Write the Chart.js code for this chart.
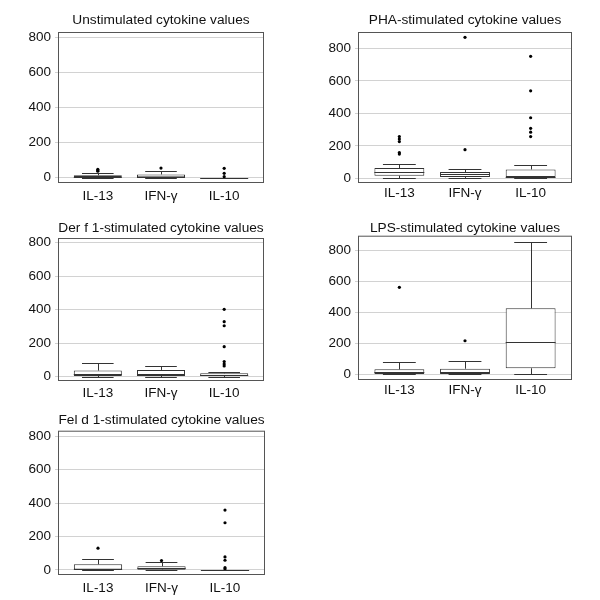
<!DOCTYPE html>
<html>
<head>
<meta charset="utf-8">
<script src="https://cdn.jsdelivr.net/npm/chart.js@4.4.1/dist/chart.umd.min.js"></script>
<style>
  body { margin: 0; background: #fff; }
  #wrap { position: relative; width: 600px; height: 600px; }
  #wrap canvas { position: absolute; }
</style>
</head>
<body>
<div id="wrap">
  <canvas id="c1"></canvas>
  <canvas id="c2"></canvas>
  <canvas id="c3"></canvas>
  <canvas id="c4"></canvas>
  <canvas id="c5"></canvas>
</div>
<script>
const categories = ['IL-13', 'IFN-γ', 'IL-10'];
const yTicks = [0, 200, 400, 600, 800];

// one box per category: [lower whisker, q1, median, q3, upper whisker]
const unstimStats = [[0, 0, 4, 14, 28], [0, 0, 6, 19, 38], [0, 0, 0, 0, 0]];
const unstimOutliers = [[48, 42, 37], [55], [54, 25, 6]];

const phaStats = [[0, 15, 38, 63, 89], [0, 7, 26, 38, 58], [0, 7, 10, 54, 83]];
const phaOutliers = [[257, 242, 226, 158, 149], [869, 176], [752, 539, 373, 308, 284, 257]];

const derStats = [[0, 4, 14, 36, 80], [0, 4, 16, 40, 64], [0, 4, 10, 20, 26]];
const derOutliers = [[], [], [402, 328, 304, 179, 90, 76, 64]];

const lpsStats = [[0, 2, 17, 32, 78], [0, 2, 17, 36, 84], [3, 39, 211, 427, 858]];
const lpsOutliers = [[563], [217], []];

const felStats = [[0, 0, 8, 34, 66], [0, 2, 10, 22, 46], [0, 0, 0, 0, 0]];
const felOutliers = [[130], [56], [358, 282, 78, 58, 14, 6]];

Chart.defaults.font.family = "'Liberation Sans', Arial, sans-serif";
Chart.defaults.color = '#111';

// canvas box [left, top, width, height], plot area [left, top, right, bottom] inside it
const panels = [
  { id: 'c1', title: 'Unstimulated cytokine values', stats: unstimStats, outliers: unstimOutliers,
    box: [0, 0, 300, 205], plot: [58, 32, 264, 183], titleY: 20, yMin: -30, yMax: 832, xPad: 5 },
  { id: 'c2', title: 'PHA-stimulated cytokine values', stats: phaStats, outliers: phaOutliers,
    box: [300, 0, 300, 205], plot: [58, 32, 272, 183], titleY: 20, yMin: -29.5, yMax: 902, xPad: 2 },
  { id: 'c3', title: 'Der f 1-stimulated cytokine values', stats: derStats, outliers: derOutliers,
    box: [0, 205, 300, 200], plot: [58, 33, 264, 176], titleY: 23, yMin: -26, yMax: 828, xPad: 4 },
  { id: 'c4', title: 'LPS-stimulated cytokine values', stats: lpsStats, outliers: lpsOutliers,
    box: [300, 205, 300, 200], plot: [58, 30.7, 272, 175], titleY: 23.3, yMin: -37, yMax: 897, xPad: 2 },
  { id: 'c5', title: 'Fel d 1-stimulated cytokine values', stats: felStats, outliers: felOutliers,
    box: [0, 405, 300, 195], plot: [58, 25.7, 265, 170], titleY: 15.7, yMin: -30, yMax: 832, xPad: 5 }
];

function boxParts(p) {
  return {
    id: 'boxParts',
    beforeDatasetsDraw(chart) {
      const { ctx, scales: { x, y } } = chart;
      ctx.save();
      ctx.strokeStyle = '#333';
      ctx.lineWidth = 1;
      ctx.beginPath();
      p.stats.forEach((s, i) => {
        const cx = Math.round(x.getPixelForValue(i)) + 0.5;
        const cl = x.getPixelForValue(i - 0.25), cr = x.getPixelForValue(i + 0.25);
        const hi = Math.round(y.getPixelForValue(s[4])) + 0.5;
        const lo = Math.round(y.getPixelForValue(s[0])) + 0.5;
        ctx.moveTo(cx, y.getPixelForValue(s[3]));
        ctx.lineTo(cx, hi);
        ctx.moveTo(cl, hi);
        ctx.lineTo(cr, hi);
        ctx.moveTo(cx, y.getPixelForValue(s[1]));
        ctx.lineTo(cx, lo);
        ctx.moveTo(cl, lo);
        ctx.lineTo(cr, lo);
      });
      ctx.stroke();
      ctx.restore();
    },
    afterDatasetsDraw(chart) {
      const { ctx, chartArea: a, scales: { x, y } } = chart;
      ctx.save();
      ctx.strokeStyle = '#333';
      ctx.lineWidth = 1;
      ctx.beginPath();
      p.stats.forEach((s, i) => {
        const my = Math.round(y.getPixelForValue(s[2])) + 0.5;
        ctx.moveTo(x.getPixelForValue(i - 0.38), my);
        ctx.lineTo(x.getPixelForValue(i + 0.38), my);
      });
      ctx.stroke();
      // plot frame
      ctx.strokeStyle = '#555';
      ctx.strokeRect(a.left + 0.5, a.top + 0.5, a.right - a.left - 1, a.bottom - a.top - 1);
      ctx.restore();
    }
  };
}

panels.forEach(p => {
  const [bl, bt, bw, bh] = p.box;
  const [pl, pt, pr, pb] = p.plot;
  const canvas = document.getElementById(p.id);
  canvas.width = bw;
  canvas.height = bh;
  canvas.style.left = bl + 'px';
  canvas.style.top = bt + 'px';

  const titleSize = 13.7;
  const padTop = p.titleY - titleSize * 0.6;
  const padBottom = pt - padTop - titleSize * 1.2;

  const scatterData = [];
  p.outliers.forEach((list, i) => list.forEach(v => scatterData.push({ x: i, y: v })));

  new Chart(canvas, {
    type: 'bar',
    data: {
      datasets: [{
        type: 'bar',
        data: p.stats.map((s, i) => ({ x: i, y: [s[1], s[3]] })),
        backgroundColor: '#fff',
        borderColor: '#333',
        borderWidth: 1,
        borderSkipped: false,
        barPercentage: 0.76,
        categoryPercentage: 1
      }, {
        type: 'scatter',
        data: scatterData,
        pointRadius: 1.6,
        pointBackgroundColor: '#000',
        pointBorderWidth: 0
      }]
    },
    options: {
      responsive: false,
      animation: false,
      devicePixelRatio: 1,
      events: [],
      layout: { padding: { left: 0, top: 0, right: bw - pr, bottom: 0 } },
      plugins: {
        legend: { display: false },
        tooltip: { enabled: false },
        title: {
          display: true,
          text: p.title,
          fullSize: false,
          color: '#111',
          font: { size: titleSize, weight: 'normal', lineHeight: 1.2 },
          padding: { top: padTop, bottom: padBottom }
        }
      },
      scales: {
        x: {
          type: 'linear',
          min: -0.63,
          max: 2.63,
          offset: false,
          grid: { display: false, drawTicks: false },
          border: { display: false },
          afterBuildTicks: s => { s.ticks = categories.map((c, i) => ({ value: i })); },
          afterFit: s => { s.height = bh - pb; },
          ticks: {
            padding: p.xPad,
            maxRotation: 0,
            font: { size: 13.5, lineHeight: 1.2 },
            color: '#111',
            callback: v => categories[v]
          }
        },
        y: {
          type: 'linear',
          min: p.yMin,
          max: p.yMax,
          grid: { color: '#d2d2d2', tickLength: 3 },
          border: { display: false },
          afterBuildTicks: s => { s.ticks = yTicks.map(v => ({ value: v })); },
          afterFit: s => { s.width = pl; },
          ticks: { padding: 4, font: { size: 13.5 }, color: '#111' }
        }
      }
    },
    plugins: [boxParts(p)]
  });
});
</script>
</body>
</html>
